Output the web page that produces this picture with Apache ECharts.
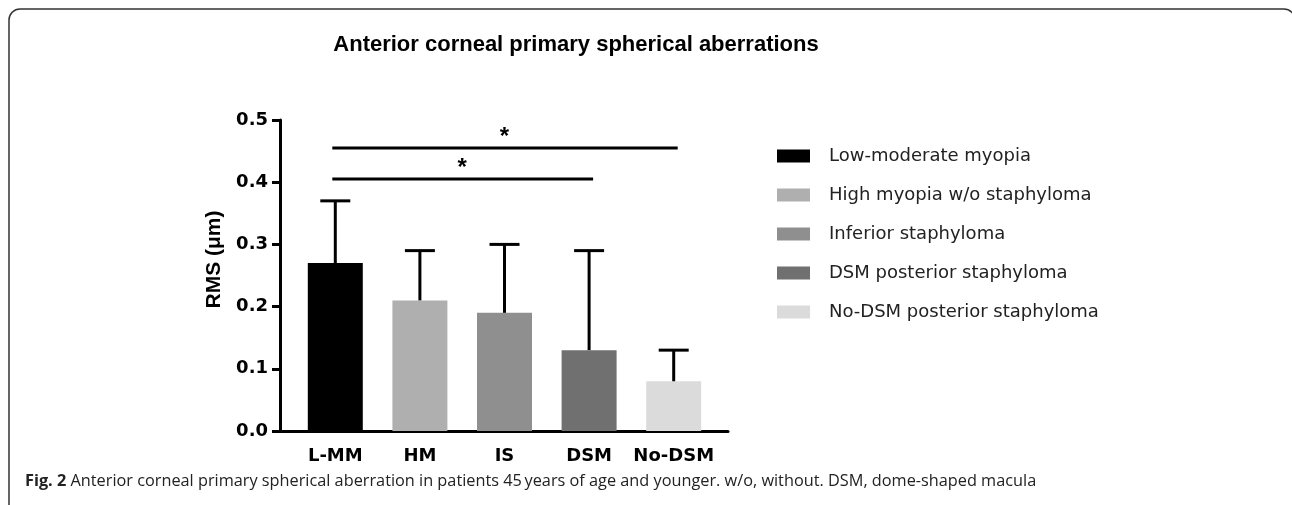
<!DOCTYPE html>
<html>
<head>
<meta charset="utf-8">
<script src="https://cdn.jsdelivr.net/npm/echarts@6/dist/echarts.min.js"></script>
<style>
html,body{margin:0;padding:0;background:#fff;}
#chart{width:1292px;height:505px;}
</style>
</head>
<body>
<div id="chart"></div>
<script>
// ---- data ----
var categories = ['L-MM', 'HM', 'IS', 'DSM', 'No-DSM'];
var groupNames = ['Low-moderate myopia', 'High myopia w/o staphyloma', 'Inferior staphyloma', 'DSM posterior staphyloma', 'No-DSM posterior staphyloma'];
var means = [0.27, 0.21, 0.19, 0.13, 0.08];
var sds = [0.10, 0.08, 0.11, 0.16, 0.05];
var yTicks = [0.0, 0.1, 0.2, 0.3, 0.4, 0.5];
var sigFrom = [0, 0];
var sigTo = [3, 4];
var sigY = [0.405, 0.455];
var sigText = ['*', '*'];

var colors = ['#000000', '#afafaf', '#8f8f8f', '#707070', '#dbdbdb'];
var FONT = '"Liberation Sans", Arial, sans-serif';
var WIDE = '"DejaVu Sans", sans-serif';

var chart = echarts.init(document.getElementById('chart'), null, {renderer: 'canvas'});

var barSeries = groupNames.map(function (name, k) {
  return {
    name: name,
    type: 'bar',
    xAxisIndex: 1,
    yAxisIndex: 1,
    barWidth: 55,
    barGap: '-100%',
    itemStyle: {color: colors[k]},
    data: categories.map(function (c, i) { return i === k ? means[i] : '-'; }),
    z: 2
  };
});

var errorData = categories.map(function (c, i) { return [i, means[i], means[i] + sds[i]]; });
var sigData = sigFrom.map(function (f, i) { return [f, sigTo[i], sigY[i], sigText[i]]; });

var option = {
  backgroundColor: '#ffffff',
  animation: false,
  title: [{
    text: 'Anterior corneal primary spherical aberrations',
    left: 571,
    textAlign: 'center',
    top: 29,
    textStyle: {fontFamily: FONT, fontWeight: 'bold', fontSize: 22, color: '#000'}
  }, {
    text: '{b|Fig. 2} Anterior corneal primary spherical aberration in patients 45\u2009years of age and younger. w/o, without. DSM, dome-shaped macula',
    left: 20,
    top: 468,
    textStyle: {
      fontFamily: '"Open Sans", sans-serif', fontSize: 16.3, color: '#222', fontWeight: 'normal',
      rich: {b: {fontFamily: '"Open Sans", sans-serif', fontSize: 16.3, fontWeight: 'bold', color: '#222'}}
    }
  }],
  legend: {
    orient: 'vertical',
    left: 777,
    top: 147,
    padding: 0,
    itemWidth: 33,
    itemHeight: 13,
    itemGap: 21,
    icon: 'rect',
    data: groupNames,
    textStyle: {fontFamily: WIDE, fontSize: 18, color: '#222', padding: [0, 0, 0, 14]}
  },
  grid: [
    {left: 280, right: 564, top: 120, bottom: 74},
    {left: 293, right: 576, top: 120, bottom: 74}
  ],
  xAxis: [{
    gridIndex: 0, type: 'value', min: 0, max: 1,
    axisLine: {show: true, lineStyle: {color: '#000', width: 3}},
    axisTick: {show: false}, axisLabel: {show: false}, splitLine: {show: false}
  }, {
    gridIndex: 1, type: 'category', data: categories,
    axisLine: {show: false}, axisTick: {show: false},
    axisLabel: {interval: 0, margin: 16, fontFamily: WIDE, fontWeight: 'bold', fontSize: 18, color: '#000'}
  }],
  yAxis: [{
    gridIndex: 0, type: 'value', min: yTicks[0], max: yTicks[yTicks.length - 1], interval: 0.1,
    name: 'RMS (\u03bcm)',
    nameLocation: 'middle',
    nameGap: 55,
    nameTextStyle: {fontFamily: FONT, fontWeight: 'bold', fontSize: 21, color: '#000', padding: [0, 0, 0, 32]},
    axisLine: {show: true, lineStyle: {color: '#000', width: 3}},
    axisTick: {show: true, length: 8, lineStyle: {color: '#000', width: 3}},
    axisLabel: {margin: 12, fontFamily: WIDE, fontWeight: 'bold', fontSize: 18, color: '#000',
      formatter: function (v) { return v.toFixed(1); }},
    splitLine: {show: false}
  }, {
    gridIndex: 1, type: 'value', min: yTicks[0], max: yTicks[yTicks.length - 1], interval: 0.1,
    show: false, splitLine: {show: false}
  }],
  series: barSeries.concat([{
    type: 'custom',
    name: 'error',
    xAxisIndex: 1, yAxisIndex: 1,
    data: errorData,
    z: 5,
    renderItem: function (params, api) {
      var i = api.value(0);
      var p0 = api.coord([i, api.value(1)]);
      var p1 = api.coord([i, api.value(2)]);
      var hw = 15;
      var st = {stroke: '#000', lineWidth: 3};
      return {type: 'group', children: [
        {type: 'line', shape: {x1: p0[0], y1: p0[1], x2: p1[0], y2: p1[1]}, style: st},
        {type: 'line', shape: {x1: p1[0] - hw, y1: p1[1], x2: p1[0] + hw, y2: p1[1]}, style: st}
      ]};
    }
  }, {
    type: 'custom',
    name: 'sig',
    xAxisIndex: 1, yAxisIndex: 1,
    data: sigData,
    z: 5,
    renderItem: function (params, api) {
      var a = api.coord([api.value(0), api.value(2)]);
      var b = api.coord([api.value(1), api.value(2)]);
      var txt = sigData[params.dataIndex][3];
      return {type: 'group', children: [
        {type: 'line', shape: {x1: a[0] - 3, y1: a[1], x2: b[0] + 4, y2: b[1]}, style: {stroke: '#000', lineWidth: 3}},
        {type: 'text', x: (a[0] + b[0]) / 2, y: a[1] + 1,
          style: {text: txt, fontFamily: FONT, fontWeight: 'bold', fontSize: 24, fill: '#000', align: 'center', verticalAlign: 'bottom'}}
      ]};
    }
  }]),
  graphic: [{
    type: 'rect',
    shape: {x: 9, y: 9, width: 1286, height: 540, r: 11},
    style: {fill: 'none', stroke: '#333', lineWidth: 1.5},
    silent: true,
    z: -1
  }]
};
chart.setOption(option);
</script>
</body>
</html>
